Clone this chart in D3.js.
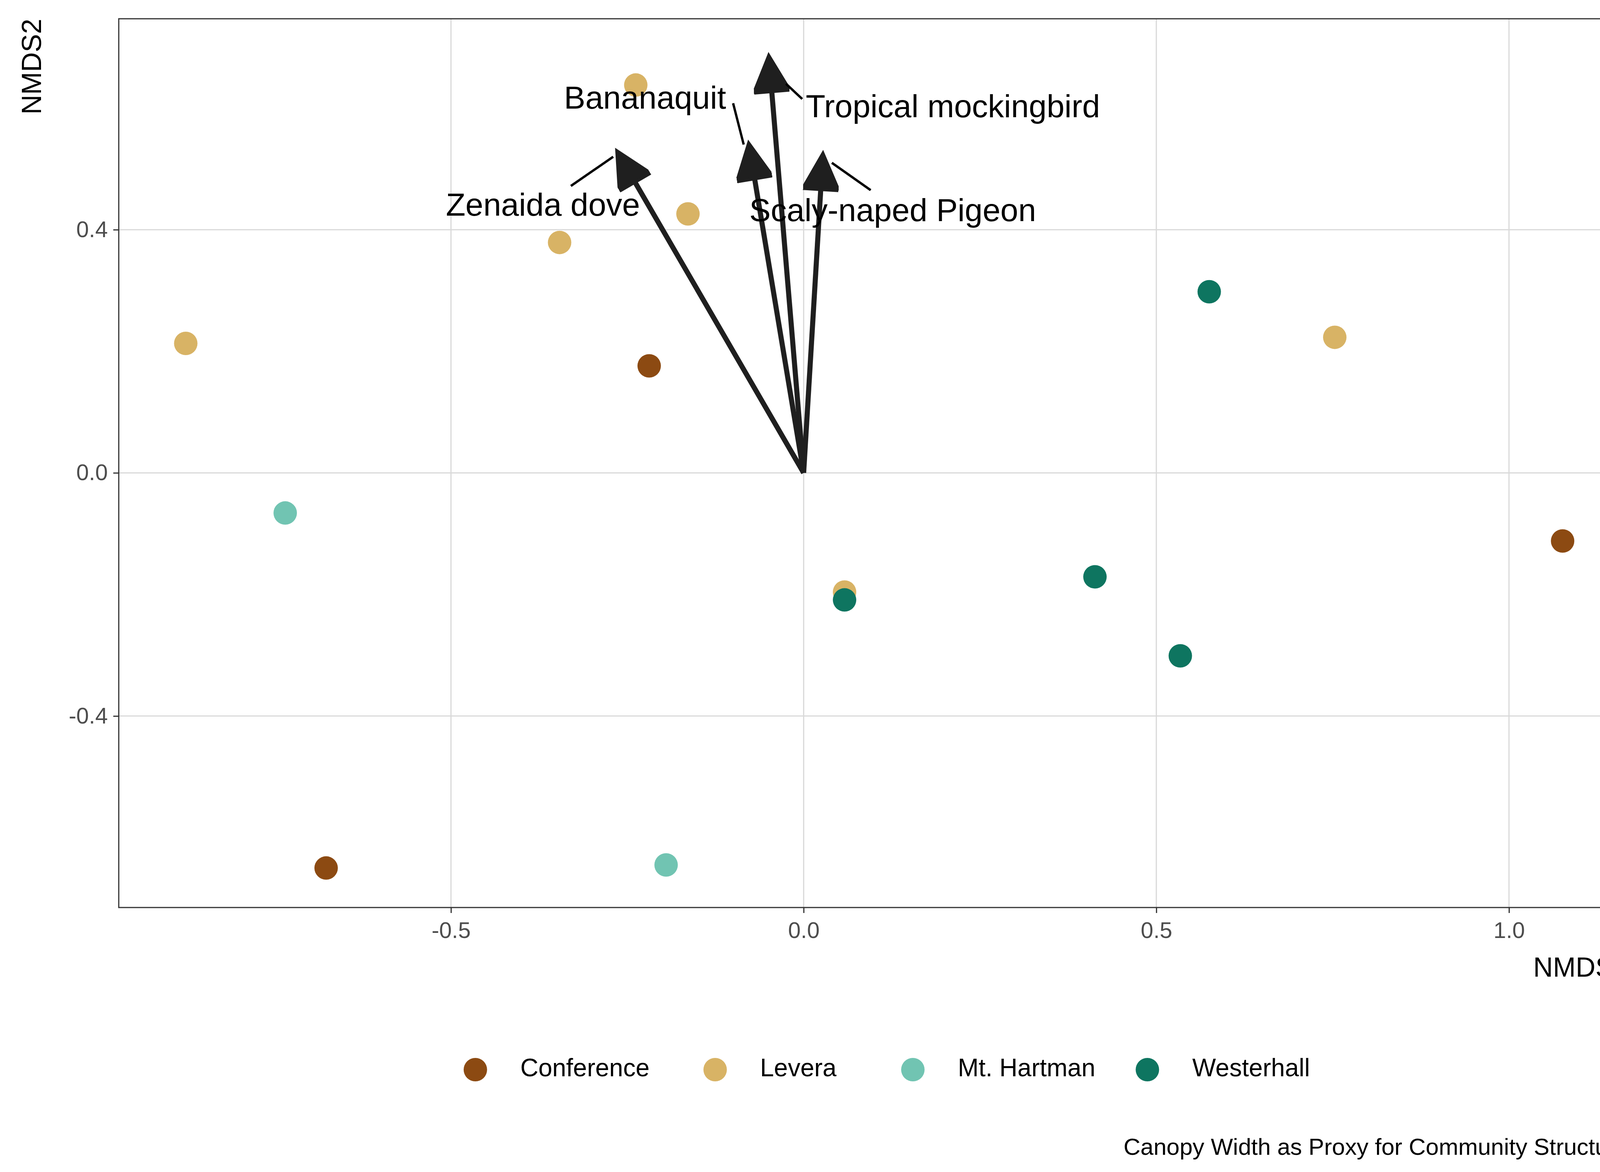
<!DOCTYPE html>
<html><head><meta charset="utf-8">
<script src="https://cdn.jsdelivr.net/npm/d3@7"></script>
<style>html,body{margin:0;padding:0;background:#fff;overflow:hidden}svg{display:block}text{font-family:"Liberation Sans",Arial,sans-serif}</style>
</head><body><div id="chart"></div>
<script>
var width = 4200, height = 3000;
var k = 4200 / 1560;

var sites = ["Conference", "Levera", "Mt. Hartman", "Westerhall"];
var siteColors = ["#8C4A12", "#D8B365", "#71C4B2", "#0E7560"];

var pointSite = ["Levera","Levera","Levera","Levera","Levera","Levera",
  "Conference","Conference","Conference","Mt. Hartman","Mt. Hartman",
  "Westerhall","Westerhall","Westerhall","Westerhall"];
var pointX = [-0.238,-0.164,-0.346,-0.876,0.753,0.058,-0.219,-0.677,1.076,-0.735,-0.195,0.575,0.413,0.534,0.058];
var pointY = [0.638,0.426,0.379,0.213,0.223,-0.196,0.176,-0.650,-0.112,-0.066,-0.645,0.298,-0.171,-0.301,-0.209];

var species = ["Zenaida dove","Bananaquit","Tropical mockingbird","Scaly-naped Pigeon"];
var arrowX = [-0.262,-0.077,-0.049,0.027];
var arrowY = [0.524,0.536,0.680,0.519];
// repelled label positions (data units), anchor, and connector segments
var labelX = [-0.232,-0.110,0.003,-0.077];
var labelY = [0.437,0.613,0.599,0.428];
var labelAnchor = ["end","end","start","start"];
var segX1 = [-0.330,-0.100,-0.002,0.095];
var segY1 = [0.472,0.608,0.615,0.465];
var segX2 = [-0.270,-0.085,-0.025,0.040];
var segY2 = [0.520,0.540,0.640,0.510];

var xTicks = [-0.5, 0, 0.5, 1.0];
var yTicks = [-0.4, 0, 0.4];

var m = {left: 304, right: 4170, top: 48, bottom: 2323};
var x = d3.scaleLinear().domain([-0.971, 1.170]).range([m.left, m.right]);
var y = d3.scaleLinear().domain([-0.715, 0.747]).range([m.bottom, m.top]);

var svg = d3.select("#chart").append("svg").attr("width", width).attr("height", height);

// grid
svg.selectAll(".gx").data(xTicks).enter().append("line")
  .attr("x1", d => x(d)).attr("x2", d => x(d)).attr("y1", m.top).attr("y2", m.bottom)
  .attr("stroke", "#d9d9d9").attr("stroke-width", 3);
svg.selectAll(".gy").data(yTicks).enter().append("line")
  .attr("y1", d => y(d)).attr("y2", d => y(d)).attr("x1", m.left).attr("x2", m.right)
  .attr("stroke", "#d9d9d9").attr("stroke-width", 3);

// axes
var fmt = d => d3.format(".1f")(d).replace("−", "-");
var xAxis = svg.append("g").attr("transform", "translate(0," + m.bottom + ")")
  .call(d3.axisBottom(x).tickValues(xTicks).tickFormat(fmt).tickSize(14).tickPadding(12));
var yAxis = svg.append("g").attr("transform", "translate(" + m.left + ",0)")
  .call(d3.axisLeft(y).tickValues(yTicks).tickFormat(fmt).tickSize(14).tickPadding(14));
[xAxis, yAxis].forEach(function (a) {
  a.select(".domain").remove();
  a.selectAll("line").attr("stroke", "#333").attr("stroke-width", 3);
  a.selectAll("text").attr("font-size", 58).attr("fill", "#4d4d4d");
});
xAxis.selectAll("text").attr("dy", "0.9em");

// points
svg.selectAll(".pt").data(pointX).enter().append("circle")
  .attr("cx", d => x(d)).attr("cy", (d, i) => y(pointY[i])).attr("r", 30)
  .attr("fill", (d, i) => siteColors[sites.indexOf(pointSite[i])]);

// arrows
svg.append("defs").append("marker").attr("id", "ah")
  .attr("viewBox", "0 0 10 10").attr("refX", 9).attr("refY", 5)
  .attr("markerWidth", 9).attr("markerHeight", 7).attr("markerUnits", "strokeWidth")
  .attr("orient", "auto")
  .append("path").attr("d", "M0,0L10,5L0,10Z").attr("fill", "#1f1f1f").attr("stroke", "#1f1f1f");
svg.selectAll(".ar").data(arrowX).enter().append("line")
  .attr("x1", x(0)).attr("y1", y(0))
  .attr("x2", d => x(d)).attr("y2", (d, i) => y(arrowY[i]))
  .attr("stroke", "#1f1f1f").attr("stroke-width", 13).attr("marker-end", "url(#ah)");

// label connectors
svg.selectAll(".sg").data(segX1).enter().append("line")
  .attr("x1", d => x(d)).attr("y1", (d, i) => y(segY1[i]))
  .attr("x2", (d, i) => x(segX2[i])).attr("y2", (d, i) => y(segY2[i]))
  .attr("stroke", "#000").attr("stroke-width", 6);

svg.selectAll(".lb").data(species).enter().append("text")
  .attr("x", (d, i) => x(labelX[i])).attr("y", (d, i) => y(labelY[i]))
  .attr("text-anchor", (d, i) => labelAnchor[i]).attr("dominant-baseline", "middle")
  .attr("font-size", 82).attr("fill", "#000").text(d => d);

// panel border
svg.append("rect").attr("x", m.left).attr("y", m.top)
  .attr("width", m.right - m.left).attr("height", m.bottom - m.top)
  .attr("fill", "none").attr("stroke", "#333").attr("stroke-width", 3);

// axis titles
svg.append("text").attr("x", m.right).attr("y", 2500).attr("text-anchor", "end")
  .attr("font-size", 70).text("NMDS1");
svg.append("text").attr("transform", "translate(105," + m.top + ") rotate(-90)")
  .attr("text-anchor", "end").attr("font-size", 70).text("NMDS2");

// legend
var legX = [452, 680, 868, 1091].map(v => v * k);
var leg = svg.selectAll(".lg").data(sites).enter().append("g")
  .attr("transform", (d, i) => "translate(" + legX[i] + "," + 1017 * k + ")");
leg.append("circle").attr("r", 30).attr("fill", (d, i) => siteColors[i]);
leg.append("text").attr("x", 115).attr("dominant-baseline", "middle")
  .attr("font-size", 64).text(d => d);

svg.append("text").attr("x", m.right).attr("y", 1098 * k).attr("text-anchor", "end")
  .attr("font-size", 60).text("Canopy Width as Proxy for Community Structure");
</script></body></html>
